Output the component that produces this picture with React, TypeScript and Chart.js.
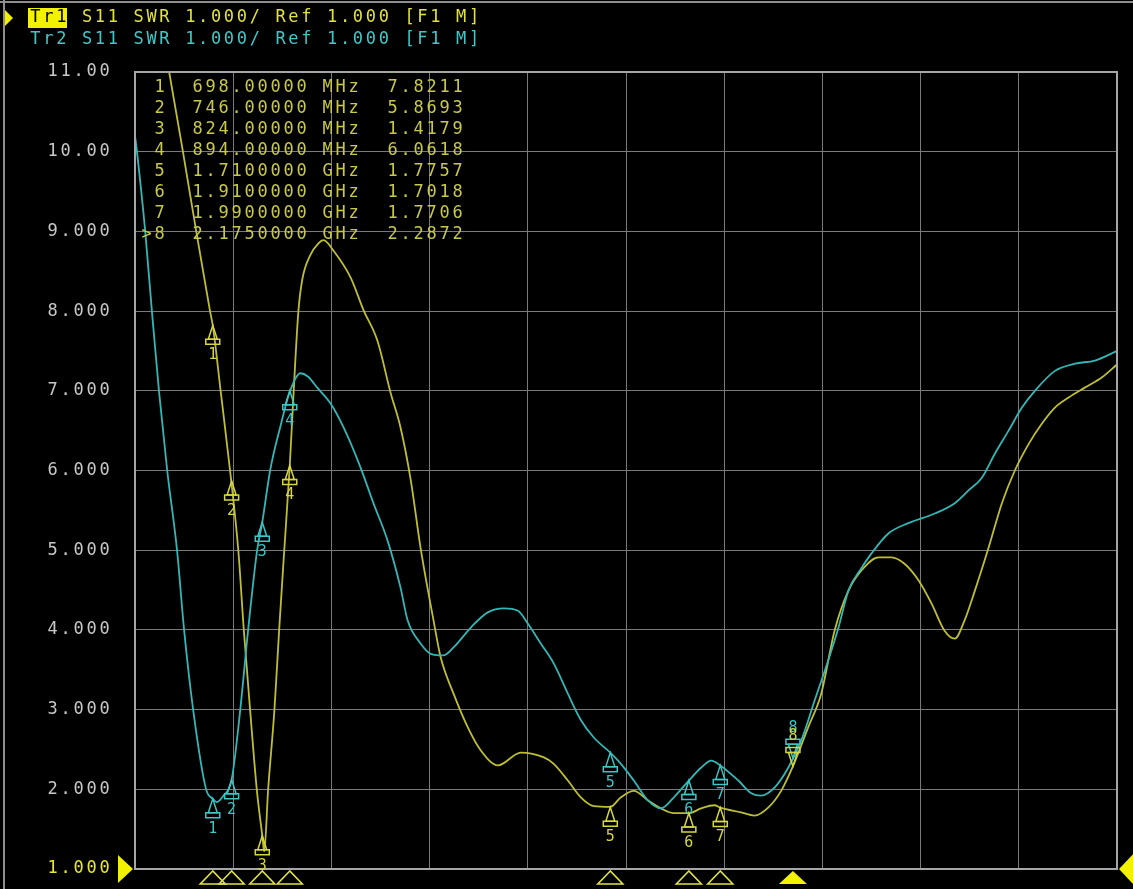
import React, { useEffect, useRef } from "react";
import { Chart, registerables } from "chart.js";

Chart.register(...registerables);

// ---- Data ----
const tr1Freq = [570, 587, 622, 656, 691, 698, 718, 742, 763, 777, 793, 810, 824, 829, 839, 855, 867, 880, 894, 904, 916, 926, 946, 967, 980, 1005, 1049, 1082, 1117, 1151, 1176, 1202, 1227, 1260, 1278, 1311, 1347, 1380, 1424, 1482, 1541, 1566, 1602, 1635, 1668, 1710, 1737, 1770, 1806, 1839, 1872, 1910, 1941, 1975, 1990, 2043, 2077, 2112, 2145, 2175, 2214, 2247, 2281, 2316, 2350, 2393, 2426, 2459, 2495, 2528, 2561, 2587, 2612, 2638, 2673, 2707, 2740, 2776, 2809, 2842, 2878, 2918, 2962, 3000];
const tr1Swr = [11.45, 11.0, 10.0, 9.0, 8.0, 7.82, 7.0, 6.0, 5.0, 4.0, 3.0, 2.0, 1.42, 1.22, 2.0, 3.0, 4.0, 5.0, 6.06, 7.0, 8.0, 8.4, 8.7, 8.85, 8.89, 8.76, 8.42, 8.01, 7.63, 6.97, 6.54, 5.88, 5.03, 4.12, 3.66, 3.2, 2.78, 2.49, 2.3, 2.46, 2.4, 2.32, 2.11, 1.9, 1.79, 1.78, 1.9, 1.98, 1.86, 1.76, 1.7, 1.7, 1.76, 1.8, 1.77, 1.71, 1.67, 1.77, 1.98, 2.29, 2.78, 3.2, 3.99, 4.49, 4.75, 4.91, 4.91, 4.83, 4.62, 4.33, 3.99, 3.89, 4.12, 4.49, 5.03, 5.59, 6.0, 6.34, 6.59, 6.79, 6.92, 7.04, 7.17, 7.33];

const tr2Freq = [500, 505, 526, 543, 561, 582, 607, 625, 648, 681, 698, 708, 725, 746, 768, 788, 811, 824, 844, 870, 895, 921, 940, 964, 998, 1031, 1074, 1107, 1143, 1176, 1194, 1227, 1253, 1286, 1311, 1355, 1398, 1439, 1475, 1500, 1533, 1566, 1602, 1635, 1668, 1710, 1737, 1770, 1806, 1839, 1872, 1910, 1941, 1967, 1990, 2036, 2069, 2094, 2128, 2163, 2196, 2230, 2265, 2291, 2316, 2350, 2375, 2418, 2469, 2536, 2587, 2622, 2656, 2689, 2724, 2758, 2791, 2842, 2893, 2944, 3000];
const tr2Swr = [10.2, 10.0, 9.0, 8.0, 7.0, 6.0, 5.0, 4.0, 3.0, 2.0, 1.88, 1.84, 1.92, 2.12, 3.0, 4.0, 5.0, 5.35, 6.0, 6.55, 7.0, 7.22, 7.18, 7.04, 6.84, 6.54, 6.04, 5.59, 5.12, 4.53, 4.12, 3.83, 3.7, 3.68, 3.78, 4.03, 4.22, 4.27, 4.24, 4.08, 3.83, 3.58, 3.2, 2.87, 2.65, 2.46, 2.32, 2.11, 1.86, 1.76, 1.9, 2.11, 2.27, 2.36, 2.3, 2.11, 1.95, 1.92, 2.02, 2.27, 2.61, 3.11, 3.62, 4.03, 4.49, 4.78, 4.96, 5.21, 5.34, 5.46, 5.59, 5.75, 5.91, 6.21, 6.5, 6.79, 7.0, 7.25, 7.34, 7.38, 7.5];

const markerIds = ["1", "2", "3", "4", "5", "6", "7", "8"];
const markerFreq = [698, 746, 824, 894, 1710, 1910, 1990, 2175];
const markerTr1 = [7.8211, 5.8693, 1.4179, 6.0618, 1.7757, 1.7018, 1.7706, 2.2872];
const markerTr2 = [1.88, 2.12, 5.35, 7.0, 2.46, 2.11, 2.3, 2.39];
const markerFreqText = ["698.00000 MHz", "746.00000 MHz", "824.00000 MHz", "894.00000 MHz", "1.7100000 GHz", "1.9100000 GHz", "1.9900000 GHz", "2.1750000 GHz"];
const markerValueText = ["7.8211", "5.8693", "1.4179", "6.0618", "1.7757", "1.7018", "1.7706", "2.2872"];
const activeMarker = 7;

const yTicks = [11, 10, 9, 8, 7, 6, 5, 4, 3, 2, 1];
const yTickLabels = ["11.00", "10.00", "9.000", "8.000", "7.000", "6.000", "5.000", "4.000", "3.000", "2.000", "1.000"];

const header1Tag = "Tr1";
const header1Rest = " S11 SWR 1.000/ Ref 1.000 [F1 M]";
const header2 = "Tr2 S11 SWR 1.000/ Ref 1.000 [F1 M]";

// ---- Styles ----
const YELLOW = "#bebe34";
const CYAN = "#35b6b6";
const MONO = '"DejaVu Sans Mono", "Liberation Mono", monospace';

function drawMono(ctx: CanvasRenderingContext2D, text: string, x: number, y: number, pitch: number, align: "left" | "right" | "center" = "left") {
  const w = text.length * pitch;
  const x0 = align === "right" ? x - w : align === "center" ? x - w / 2 : x;
  ctx.textAlign = "center";
  ctx.textBaseline = "middle";
  for (let i = 0; i < text.length; i++) {
    const ch = text[i];
    if (ch !== " ") ctx.fillText(ch, x0 + i * pitch + pitch / 2, y);
  }
}

function drawTraceMarker(ctx: CanvasRenderingContext2D, x: number, y: number, label: string, color: string, active: boolean) {
  ctx.save();
  ctx.strokeStyle = color;
  ctx.fillStyle = color;
  ctx.lineWidth = 1.5;
  const d = active ? -1 : 1;
  ctx.beginPath();
  ctx.moveTo(x, y);
  ctx.lineTo(x - 4.5, y + d * 14);
  ctx.lineTo(x + 4.5, y + d * 14);
  ctx.closePath();
  ctx.stroke();
  ctx.beginPath();
  ctx.moveTo(x - 7, y + d * 14);
  ctx.lineTo(x + 7, y + d * 14);
  ctx.lineTo(x + 7, y + d * 19);
  ctx.lineTo(x - 7, y + d * 19);
  ctx.closePath();
  ctx.stroke();
  ctx.font = `15px ${MONO}`;
  ctx.textAlign = "center";
  ctx.textBaseline = "middle";
  ctx.fillText(label, x, y + d * 30);
  ctx.restore();
}

const vnaPlugin = {
  id: "vnaDecor",
  beforeDraw(chart: any) {
    const ctx = chart.ctx as CanvasRenderingContext2D;
    ctx.save();
    ctx.fillStyle = "#000";
    ctx.fillRect(0, 0, chart.width, chart.height);
    ctx.restore();
  },
  afterDatasetsDraw(chart: any) {
    const ctx = chart.ctx as CanvasRenderingContext2D;
    const xs = chart.scales.x;
    const ys = chart.scales.y;
    const area = chart.chartArea;
    ctx.save();
    ctx.strokeStyle = "#a6a6a6";
    ctx.lineWidth = 2;
    ctx.strokeRect(area.left, area.top, area.right - area.left, area.bottom - area.top);
    ctx.restore();

    for (let i = 0; i < markerFreq.length; i++) {
      const x = xs.getPixelForValue(markerFreq[i]);
      drawTraceMarker(ctx, x, ys.getPixelForValue(markerTr2[i]), markerIds[i], "#3cc6c6", i === activeMarker);
    }
    for (let i = 0; i < markerFreq.length; i++) {
      const x = xs.getPixelForValue(markerFreq[i]);
      drawTraceMarker(ctx, x, ys.getPixelForValue(markerTr1[i]), markerIds[i], "#d6d640", i === activeMarker);
    }

    ctx.save();
    ctx.strokeStyle = "#e2e240";
    ctx.fillStyle = "#f2f200";
    ctx.lineWidth = 1.6;
    for (let i = 0; i < markerFreq.length; i++) {
      const x = xs.getPixelForValue(markerFreq[i]);
      const hw = i === activeMarker ? 14 : 12.5;
      ctx.beginPath();
      ctx.moveTo(x, area.bottom + 2);
      ctx.lineTo(x - hw, area.bottom + 15);
      ctx.lineTo(x + hw, area.bottom + 15);
      ctx.closePath();
      if (i === activeMarker) ctx.fill();
      else ctx.stroke();
    }
    ctx.restore();
  },
  afterDraw(chart: any) {
    const ctx = chart.ctx as CanvasRenderingContext2D;
    const ys = chart.scales.y;
    const area = chart.chartArea;
    ctx.save();

    ctx.strokeStyle = "#8e8e8e";
    ctx.lineWidth = 2;
    ctx.beginPath();
    ctx.moveTo(4, 0);
    ctx.lineTo(4, chart.height);
    ctx.moveTo(0, 2);
    ctx.lineTo(chart.width, 2);
    ctx.stroke();

    ctx.font = `17px ${MONO}`;
    for (let i = 0; i < yTicks.length; i++) {
      const y = ys.getPixelForValue(yTicks[i]);
      ctx.fillStyle = yTicks[i] === 1 ? "#e8e830" : "#c8c8c8";
      drawMono(ctx, yTickLabels[i], 111, y, 13, "right");
    }

    const yRef = ys.getPixelForValue(1);
    ctx.fillStyle = "#f2f200";
    ctx.beginPath();
    ctx.moveTo(area.left - 2, yRef);
    ctx.lineTo(area.left - 17, yRef - 14);
    ctx.lineTo(area.left - 17, yRef + 14);
    ctx.closePath();
    ctx.fill();
    ctx.beginPath();
    ctx.moveTo(area.right + 2, yRef);
    ctx.lineTo(area.right + 18, yRef - 17);
    ctx.lineTo(area.right + 18, yRef + 17);
    ctx.closePath();
    ctx.fill();

    ctx.fillStyle = "#f2f200";
    ctx.beginPath();
    ctx.moveTo(13, 18);
    ctx.lineTo(5, 10);
    ctx.lineTo(5, 26);
    ctx.closePath();
    ctx.fill();
    ctx.fillRect(28, 8, 39, 20);
    ctx.font = `17px ${MONO}`;
    ctx.fillStyle = "#000";
    drawMono(ctx, header1Tag, 29, 18, 12.9);
    ctx.fillStyle = "#e0e040";
    drawMono(ctx, header1Rest, 29 + header1Tag.length * 12.9, 18, 12.9);
    ctx.fillStyle = "#40c8c8";
    drawMono(ctx, header2, 29, 40, 12.9);

    ctx.fillStyle = "#c8c84a";
    ctx.font = `17px ${MONO}`;
    for (let i = 0; i < markerIds.length; i++) {
      const y = 88 + i * 21;
      drawMono(ctx, markerIds[i], 166, y, 13, "right");
      if (i === activeMarker) drawMono(ctx, ">", 153, y, 13, "right");
      drawMono(ctx, markerFreqText[i], 191, y, 13);
      drawMono(ctx, markerValueText[i], 386, y, 13);
    }
    ctx.restore();
  },
};

export default function App() {
  const canvasRef = useRef<HTMLCanvasElement | null>(null);

  useEffect(() => {
    document.body.style.margin = "0";
    document.body.style.background = "#000";
    const canvas = canvasRef.current;
    if (!canvas) return;
    const chart = new Chart(canvas, {
      type: "line",
      data: {
        datasets: [
          {
            label: "Tr2",
            data: tr2Freq.map((f, i) => ({ x: f, y: tr2Swr[i] })),
            borderColor: CYAN,
            borderWidth: 1.8,
            pointRadius: 0,
            cubicInterpolationMode: "monotone",
          },
          {
            label: "Tr1",
            data: tr1Freq.map((f, i) => ({ x: f, y: tr1Swr[i] })),
            borderColor: YELLOW,
            borderWidth: 1.8,
            pointRadius: 0,
            cubicInterpolationMode: "monotone",
          },
        ],
      },
      options: {
        responsive: false,
        animation: false,
        devicePixelRatio: 1,
        layout: { autoPadding: false, padding: { left: 135, top: 72, right: 16, bottom: 20 } },
        plugins: { legend: { display: false }, tooltip: { enabled: false } },
        scales: {
          x: {
            type: "linear",
            min: 500,
            max: 3000,
            ticks: { display: false, stepSize: 250 },
            grid: { color: "#7a7a7a", drawTicks: false, lineWidth: 1 },
            border: { display: false },
          },
          y: {
            type: "linear",
            min: 1,
            max: 11,
            ticks: { display: false, stepSize: 1 },
            grid: { color: "#7a7a7a", drawTicks: false, lineWidth: 1 },
            border: { display: false },
          },
        },
      },
      plugins: [vnaPlugin],
    } as any);
    return () => chart.destroy();
  }, []);

  return (
    <div style={{ position: "fixed", left: 0, top: 0, width: 1133, height: 889, background: "#000" }}>
      <canvas ref={canvasRef} width={1133} height={889} style={{ display: "block" }} />
    </div>
  );
}
